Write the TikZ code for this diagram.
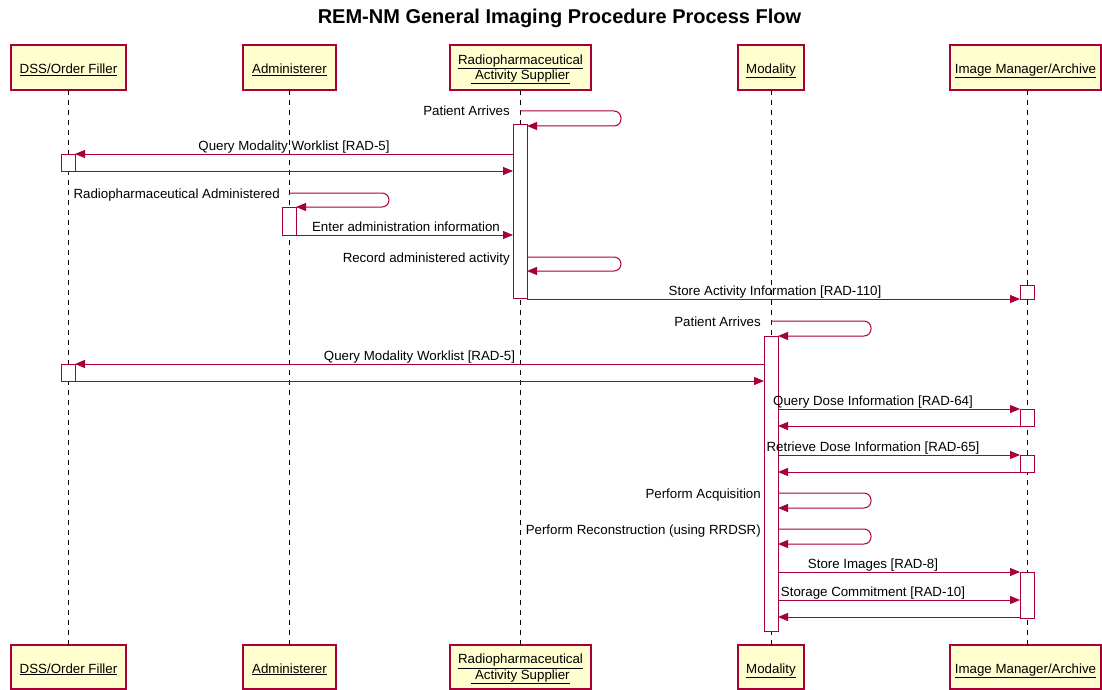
\documentclass[tikz,border=0pt]{standalone}
\usepackage{fontspec}
\setmainfont{Liberation Sans}
\usetikzlibrary{arrows.meta}
\definecolor{pred}{HTML}{A80036}
\definecolor{pfill}{HTML}{FEFECE}
\begin{document}
\begin{tikzpicture}[x=1pt,y=-1pt,
 actor/.style={draw=pred, fill=pfill, line width=1.2pt, minimum height=45pt, inner sep=0pt, outer sep=0pt,
   font=\fontsize{13.3}{14}\selectfont, align=center, text height=12pt, text depth=0pt},
 actor2/.style={actor, text height=24pt},
 life/.style={dash pattern=on 5pt off 5pt, line width=0.8pt},
 bar/.style={draw=pred, fill=white, line width=1pt, minimum width=14pt, inner sep=0pt, outer sep=0pt},
 msg/.style={draw=pred, line width=1pt, -{Triangle[length=10pt,width=8pt]}},
 selfmsg/.style={msg, rounded corners=7pt},
 lbl/.style={font=\fontsize{13.3}{14}\selectfont, anchor=base, inner sep=0pt, yshift=3.5pt},
 slbl/.style={font=\fontsize{13.3}{14}\selectfont, anchor=base east, inner sep=0pt}]
\useasboundingbox (0,0) rectangle (1102,690);

% title
\node[font=\fontsize{20}{24}\selectfont\bfseries, anchor=base, inner sep=0pt] (title) at (559.5,24) {REM-NM General Imaging Procedure Process Flow};

% participants (top)
\node[actor, minimum width=115pt] (dssT) at (68.5,67.5) {\underline{DSS/Order Filler}};
\node[actor, minimum width=93pt] (admT) at (289.5,67.5) {\underline{Administerer}};
\node[actor2, minimum width=141pt] (rasT) at (520.5,67.5) {\underline{Radiopharmaceutical}\\\underline{\ Activity Supplier}};
\node[actor, minimum width=66pt] (modT) at (771,67.5) {\underline{Modality}};
\node[actor, minimum width=151pt] (imT) at (1025.5,67.5) {\underline{Image Manager/Archive}};
% participants (bottom)
\node[actor, minimum width=115pt, minimum height=44pt] (dssB) at (68.5,667) {\underline{DSS/Order Filler}};
\node[actor, minimum width=93pt, minimum height=44pt] (admB) at (289.5,667) {\underline{Administerer}};
\node[actor2, minimum width=141pt, minimum height=44pt] (rasB) at (520.5,667) {\underline{Radiopharmaceutical}\\\underline{\ Activity Supplier}};
\node[actor, minimum width=66pt, minimum height=44pt] (modB) at (771,667) {\underline{Modality}};
\node[actor, minimum width=151pt, minimum height=44pt] (imB) at (1025.5,667) {\underline{Image Manager/Archive}};

% lifelines
\draw[life] ([xshift=-0.5pt]dssT.south) -- ([xshift=-0.5pt]dssB.north);
\draw[life] ([xshift=-0.5pt]admT.south) -- ([xshift=-0.5pt]admB.north);
\draw[life] ([xshift=-0.5pt]rasT.south) -- ([xshift=-0.5pt]rasB.north);
\draw[life] (modT.south) -- (modB.north);
\draw[life] ([xshift=1.5pt]imT.south) -- ([xshift=1.5pt]imB.north);

% activation bars
\node[bar, minimum height=173pt] (rb1) at (520,211.5) {};
\node[bar, minimum height=17pt] (db1) at (68,162.5) {};
\node[bar, minimum height=28pt] (ab1) at (289,221) {};
\node[bar, minimum height=14pt] (ib1) at (1027,292) {};
\node[bar, minimum height=295pt] (mb1) at (771,483.5) {};
\node[bar, minimum height=17pt] (db2) at (68,372.5) {};
\node[bar, minimum height=17pt] (ib2) at (1027,417.5) {};
\node[bar, minimum height=17pt] (ib3) at (1027,463.5) {};
\node[bar, minimum height=46pt] (ib4) at (1027,595) {};

% messages
\draw[selfmsg] ([xshift=-0.5pt]rasT.south |- 0,111) -- ++(101,0) -- ++(0,15) -- (rb1.east |- 0,126);
\node[slbl] (l1) at (510,116) {Patient Arrives};

\draw[msg] (rb1.west |- 0,154) -- node[lbl] (l2) {Query Modality Worklist [RAD-5]} (db1.east |- 0,154);
\draw[msg] (db1.east |- 0,171) -- (rb1.west |- 0,171);

\draw[selfmsg] ([xshift=-0.5pt]admT.south |- 0,193) -- ++(100,0) -- ++(0,14) -- (ab1.east |- 0,207);
\node[slbl] (l3) at (280,198) {Radiopharmaceutical Administered};

\draw[msg] (ab1.east |- 0,235) -- node[lbl, xshift=1.5pt] (l4) {Enter administration information} (rb1.west |- 0,235);

\draw[selfmsg] (rb1.east |- 0,257) -- ++(94,0) -- ++(0,14) -- (rb1.east |- 0,271);
\node[slbl] (l5) at (510,262) {Record administered activity};

\draw[msg] (rb1.east |- 0,299) -- node[lbl, xshift=1.5pt] (l6) {Store Activity Information [RAD-110]} (ib1.west |- 0,299);

\draw[selfmsg] (modT.south |- 0,321) -- ++(100,0) -- ++(0,15) -- (mb1.east |- 0,336);
\node[slbl] (l7) at (761,326) {Patient Arrives};

\draw[msg] (mb1.west |- 0,364) -- node[lbl] (l8) {Query Modality Worklist [RAD-5]} (db2.east |- 0,364);
\draw[msg] (db2.east |- 0,381) -- (mb1.west |- 0,381);

\draw[msg] (mb1.east |- 0,409) -- node[lbl, xshift=-26pt] (l9) {Query Dose Information [RAD-64]} (ib2.west |- 0,409);
\draw[msg] (ib2.west |- 0,426) -- (mb1.east |- 0,426);

\draw[msg] (mb1.east |- 0,455) -- node[lbl, xshift=-26pt] (l10) {Retrieve Dose Information [RAD-65]} (ib3.west |- 0,455);
\draw[msg] (ib3.west |- 0,472) -- (mb1.east |- 0,472);

\draw[selfmsg] (mb1.east |- 0,493) -- ++(93,0) -- ++(0,15) -- (mb1.east |- 0,508);
\node[slbl] (l11) at (761,498) {Perform Acquisition};

\draw[selfmsg] (mb1.east |- 0,529) -- ++(93,0) -- ++(0,15) -- (mb1.east |- 0,544);
\node[slbl] (l12) at (761,534) {Perform Reconstruction (using RRDSR)};

\draw[msg] (mb1.east |- 0,572) -- node[lbl, xshift=-26pt] (l13) {Store Images [RAD-8]} (ib4.west |- 0,572);
\draw[msg] (mb1.east |- 0,600) -- node[lbl, xshift=-26pt] (l14) {Storage Commitment [RAD-10]} (ib4.west |- 0,600);
\draw[msg] (ib4.west |- 0,617) -- (mb1.east |- 0,617);
\end{tikzpicture}
\end{document}
